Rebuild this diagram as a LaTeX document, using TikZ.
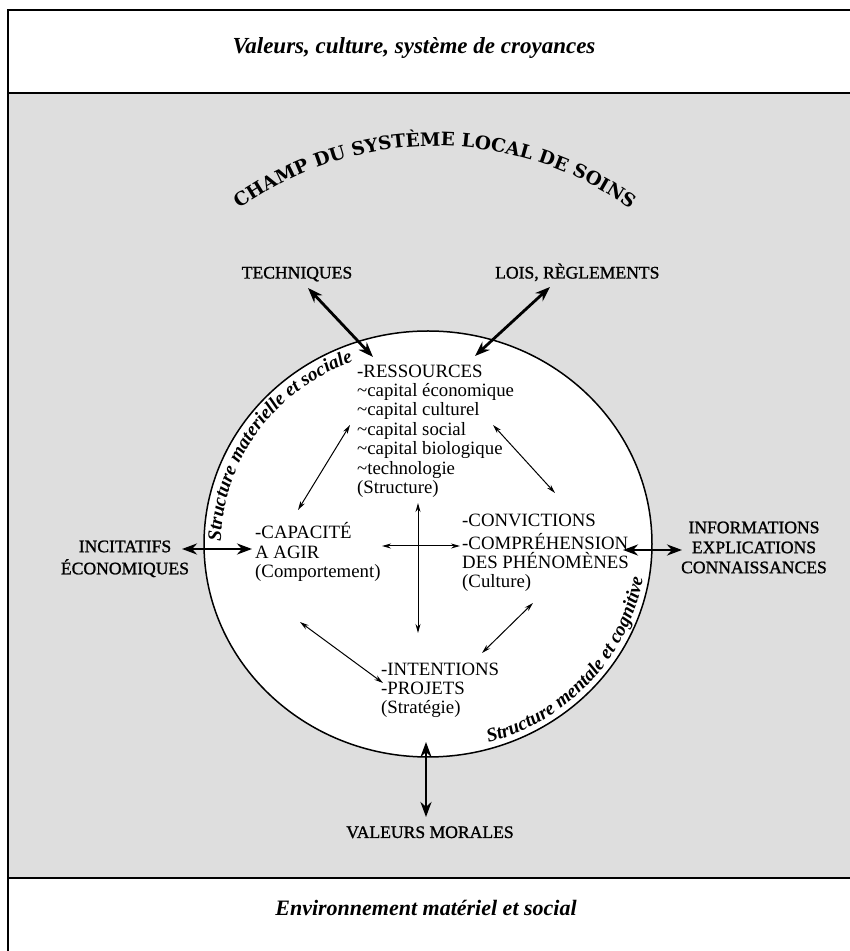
\documentclass[tikz,border=0pt]{standalone}
\usepackage{fontspec}
\setmainfont{Liberation Serif}
\newfontfamily\champfont{DejaVu Serif}
\newfontfamily\labelfont{Liberation Serif}[FakeBold=1.2]
\usetikzlibrary{arrows.meta,decorations.text,calc}

\definecolor{fieldgray}{gray}{0.87}
\newcommand{\bodysize}{\fontsize{18.8}{19.4}\selectfont}
\newcommand{\labelsize}{\labelfont\fontsize{17.6}{20}\selectfont}
\newcommand{\rimfont}{\bfseries\itshape\fontsize{19.3}{19.3}\selectfont}

\tikzset{
  frameline/.style={line width=2.2pt},
  bigarrow/.style={line width=2.8pt,
    {Stealth[length=15pt,width=11pt]}-{Stealth[length=15pt,width=11pt]}},
  smallarrow/.style={line width=1pt,
    {Stealth[length=9pt,width=5pt]}-{Stealth[length=9pt,width=5pt]}},
  block/.style={font=\bodysize, align=left, anchor=north west, inner sep=0pt},
  outerlabel/.style={font=\labelsize, align=center, inner sep=0pt},
  bandtitle/.style={font=\fontsize{23}{26}\selectfont\bfseries\itshape, inner sep=0pt, anchor=base},
}

\begin{document}
\begin{tikzpicture}[x=1pt,y=1pt]
\useasboundingbox (0,0) rectangle (850,951);

% shaded field between the two bands
\fill[fieldgray] (8,73) rectangle (850,858);
\draw[frameline] (850,941) -- (8,941) -- (8,0);
\draw[frameline] (8,858) -- (850,858);
\draw[frameline] (8,73) -- (850,73);

% band titles
\node[bandtitle] (top) at (414,897) {Valeurs, culture, système de croyances};
\node[bandtitle, font=\fontsize{22}{26}\selectfont\bfseries\itshape] (bottom) at (426,35) {Environnement matériel et social};

% the local care system
\coordinate (C) at (428,407);
\draw[line width=1.5pt, fill=white] (C) ellipse[x radius=224pt, y radius=213pt];

% curved heading
\coordinate (H) at (435,470);
\path[decorate, decoration={text along path, text align=center,
  text={|\champfont\bfseries\fontsize{18.5}{18.5}\selectfont|CHAMP DU SYSTÈME LOCAL DE SOINS}}]
  ($(H)+(150:335pt)$) arc[start angle=150, end angle=30, radius=335pt];

% texts following the rim
\path[decorate, decoration={text along path, text align=center,
  text={|\rimfont|Structure materielle et sociale}}]
  ($(C)+(216:207pt and 196pt)$) arc[start angle=216, end angle=76, x radius=207pt, y radius=196pt];
\path[decorate, decoration={text along path, text align=center,
  text={|\rimfont|Structure mentale et cognitive}}]
  ($(C)+(-100:218pt and 207pt)$) arc[start angle=-100, end angle=18, x radius=218pt, y radius=207pt];

% inner blocks
\node[block] (res) at (357,587.6) {\strut-RESSOURCES\\
  \textasciitilde capital économique\\
  \textasciitilde capital culturel\\
  \textasciitilde capital social\\
  \textasciitilde capital biologique\\
  \textasciitilde technologie\\
  (Structure)};
\node[block] (cap) at (255,428.6) {\strut-CAPACITÉ\\A AGIR\\(Comportement)};
\node[block] (conv) at (462,438.6) {\strut-CONVICTIONS\\-COMPRÉHENSION\\DES PHÉNOMÈNES\\(Culture)};
\node[block] (int) at (381,289.6) {\strut-INTENTIONS\\-PROJETS\\(Stratégie)};

% outer labels
\node[outerlabel, anchor=base] (tech) at (297,672.5) {TECHNIQUES};
\node[outerlabel, anchor=base west] (lois) at (495,672.5) {LOIS, RÈGLEMENTS};
\node[outerlabel, anchor=north] (inc) at (125,413) {\strut INCITATIFS\\ÉCONOMIQUES};
\node[outerlabel, anchor=north] (info) at (754,432) {\strut INFORMATIONS\\EXPLICATIONS\\CONNAISSANCES};
\node[outerlabel, anchor=base] (mor) at (430,113) {VALEURS MORALES};

% ends of the exchanges with the surroundings
\coordinate (t1) at (308,663);  \coordinate (t2) at (373,594);
\coordinate (l1) at (550,664);  \coordinate (l2) at (475,595);
\coordinate (i1) at (182,402);  \coordinate (i2) at (252,402);
\coordinate (n1) at (682,401);  \coordinate (n2) at (623,401);
\coordinate (m1) at (426,209);  \coordinate (m2) at (426,134);
\draw[bigarrow] (t1) -- (t2);
\draw[bigarrow] (l1) -- (l2);
\draw[bigarrow] (i1) -- (i2);
\draw[bigarrow] (n1) -- (n2);
\draw[bigarrow] (m1) -- (m2);

% exchanges between the four poles
\coordinate (a1) at (350,526); \coordinate (a2) at (298,441);
\coordinate (b1) at (493,526); \coordinate (b2) at (555,458);
\coordinate (c1) at (300,329); \coordinate (c2) at (383,268);
\coordinate (d1) at (533,348); \coordinate (d2) at (482,298);
\coordinate (v1) at (418,448); \coordinate (v2) at (418,318);
\coordinate (h1) at (382,405); \coordinate (h2) at (460,405);
\draw[smallarrow] (a1) -- (a2);
\draw[smallarrow] (b1) -- (b2);
\draw[smallarrow] (c1) -- (c2);
\draw[smallarrow] (d1) -- (d2);
\draw[smallarrow] (v1) -- (v2);
\draw[smallarrow] (h1) -- (h2);
\end{tikzpicture}
\end{document}
